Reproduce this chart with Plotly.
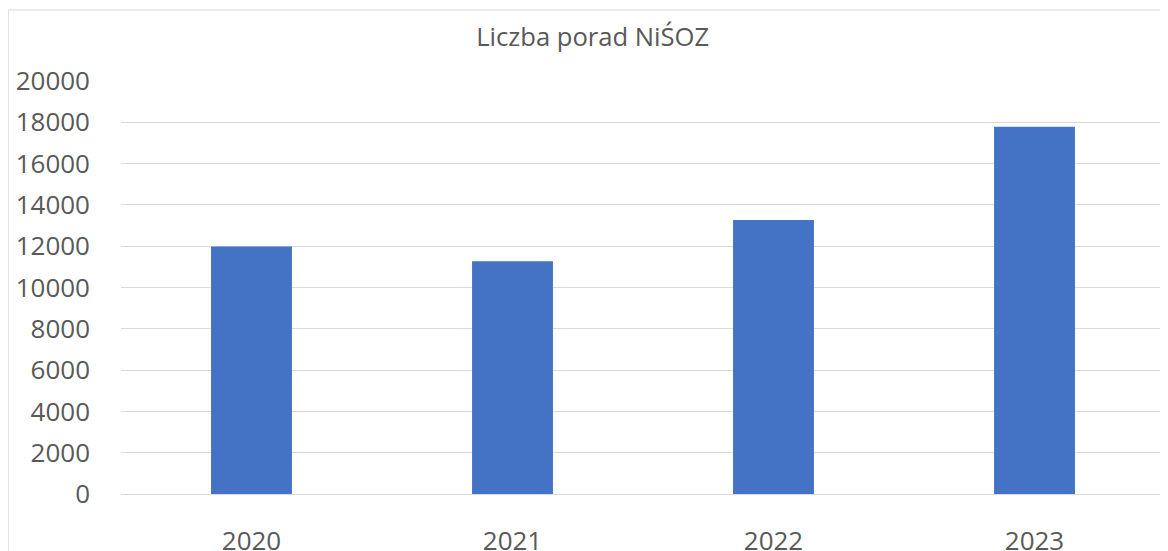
import plotly.graph_objects as go

# values
years = ["2020", "2021", "2022", "2023"]
porady = [11980, 11270, 13270, 17790]
y_ticks = list(range(0, 20001, 2000))

bar_color = "#4472c4"
text_color = "#595959"
grid_color = "#d9d9d9"

fig = go.Figure(data=[
    go.Bar(x=years, y=porady, marker={"color": bar_color, "line": {"width": 0}},
           showlegend=False, hoverinfo="x+y")
])

# page body has an 8px margin, so the figure is a bit smaller than the window
fig.update_layout(
    width=1160, height=543,
    margin={"l": 113, "r": 3, "t": 73, "b": 57, "autoexpand": False},
    paper_bgcolor="white", plot_bgcolor="white",
    bargap=0.69,
    font={"family": "Open Sans, Calibri, sans-serif", "color": text_color},
    title={"text": "Liczba porad NiŚOZ", "x": 0.504, "xref": "container",
           "xanchor": "center", "y": 0.947, "yref": "container", "yanchor": "middle",
           "font": {"size": 25.6, "color": text_color}},
)

fig.update_yaxes(range=[0, 20000], tickvals=y_ticks, tickformat="d", showgrid=True,
                 gridcolor=grid_color, gridwidth=1, zeroline=True, zerolinecolor=grid_color,
                 zerolinewidth=1, showline=False, ticks="", automargin=False,
                 tickfont={"size": 26, "color": text_color}, ticklabelstandoff=30)
fig.update_xaxes(showgrid=False, showline=False, ticks="", automargin=False,
                 tickfont={"size": 26, "color": text_color}, ticklabelstandoff=29)

# chart frame (light grey border around the whole chart)
fig.add_shape(type="rect", xref="paper", yref="paper",
              x0=-0.108, x1=1.01, y0=-0.16, y1=1.172,
              line={"color": grid_color, "width": 1}, fillcolor="rgba(0,0,0,0)", layer="below")

fig.write_html("out.html")
